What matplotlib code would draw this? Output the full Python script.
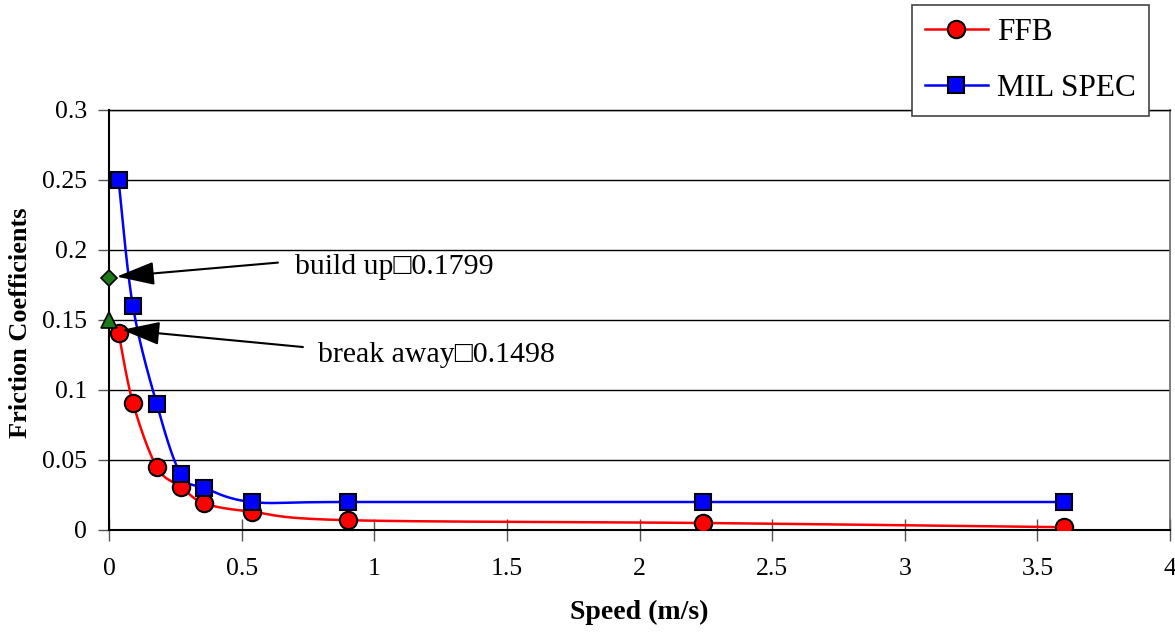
import numpy as np
import matplotlib
matplotlib.use("Agg")
import matplotlib.pyplot as plt
from matplotlib.lines import Line2D

# ---- data ----
speed = [0.036, 0.09, 0.18, 0.27, 0.36, 0.54, 0.9, 2.24, 3.6]
ffb = [0.141, 0.091, 0.045, 0.031, 0.019, 0.013, 0.007, 0.005, 0.002]
milspec = [0.25, 0.16, 0.09, 0.04, 0.03, 0.02, 0.02, 0.02, 0.02]
buildup_pt = (0.0, 0.1799)
breakaway_pt = (0.0, 0.1498)
ann_texts = ["build up\u25a10.1799", "break away\u25a10.1498"]
xticks = [0, 0.5, 1, 1.5, 2, 2.5, 3, 3.5, 4]
xticklabels = ['0', '0.5', '1', '1.5', '2', '2.5', '3', '3.5', '4']
yticks = [0, 0.05, 0.1, 0.15, 0.2, 0.25, 0.3]
yticklabels = ['0', '0.05', '0.1', '0.15', '0.2', '0.25', '0.3']

plt.rcParams['font.family'] = ['Liberation Serif', 'DejaVu Sans']

W, H = 1175, 633
fig = plt.figure(figsize=(W / 100, H / 100), dpi=100)
ax = fig.add_axes([109 / W, 1 - 530 / H, (1170 - 109) / W, 420 / H])
ax.set_xlim(0, 4)
ax.set_ylim(0, 0.3)

ASP = 420 / 1061


def smooth(x, y, n=40):
    # Excel-like bezier smoothing, computed in normalized axis space
    x = np.asarray(x, float) / 4.0
    y = np.asarray(y, float) / 0.3 * ASP
    P = np.column_stack([x, y])
    out = []
    m = len(P)
    for i in range(m - 1):
        p0 = P[i - 1] if i > 0 else P[i]
        p1 = P[i]
        p2 = P[i + 1]
        p3 = P[i + 2] if i + 2 < m else P[i + 1]
        c1 = p1 + (p2 - p0) / 6.0
        c2 = p2 - (p3 - p1) / 6.0
        t = np.linspace(0, 1, n)[:, None]
        seg = ((1 - t) ** 3) * p1 + 3 * ((1 - t) ** 2) * t * c1 + 3 * (1 - t) * t ** 2 * c2 + t ** 3 * p2
        out.append(seg)
    S = np.vstack(out)
    return S[:, 0] * 4.0, S[:, 1] / ASP * 0.3


ax.set_yticks(yticks)
ax.set_xticks(xticks)
ax.set_yticklabels(yticklabels)
ax.set_xticklabels(xticklabels)
ax.yaxis.grid(True, color='black', lw=1.0)
ax.set_axisbelow(True)
ax.tick_params(axis='y', direction='out', length=8, width=1, color='#555555', labelsize=18.5, pad=8)
ax.tick_params(axis='x', direction='inout', length=16, width=1, color='#555555', labelsize=18.5, pad=12)
for s in ['left', 'bottom']:
    ax.spines[s].set_color('black')
    ax.spines[s].set_linewidth(1.5)
ax.spines['right'].set_color('#666666')
ax.spines['right'].set_linewidth(1.2)
ax.spines['top'].set_color('black')
ax.spines['top'].set_linewidth(1.0)

sx, sy = smooth(speed, ffb)
ax.plot(sx, sy, color='red', lw=1.8, zorder=3)
sx2, sy2 = smooth(speed, milspec)
ax.plot(sx2, sy2, color='blue', lw=1.8, zorder=3)
ax.plot(speed, ffb, ls='none', marker='o', ms=12.5, mfc='red', mec='black', mew=1.5, zorder=4)
ax.plot(speed, milspec, ls='none', marker='s', ms=12, mfc='blue', mec='black', mew=1.5, zorder=4)

ax.plot([buildup_pt[0]], [buildup_pt[1]], ls='none', marker='D', ms=8.5, mfc='#1a7a1a', mec='black', mew=1.2, clip_on=False, zorder=5)
ax.plot([breakaway_pt[0]], [breakaway_pt[1]], ls='none', marker='^', ms=12, mfc='#1a7a1a', mec='black', mew=1.2, clip_on=False, zorder=5)

aprops = dict(arrowstyle='-|>,head_length=1.3,head_width=0.4', mutation_scale=18, color='black', lw=1.5, shrinkA=0, shrinkB=0)
ax.annotate('', xy=(0.029, 0.181), xytext=(0.637, 0.191), arrowprops=aprops, zorder=6)
ax.annotate('', xy=(0.049, 0.143), xytext=(0.731, 0.1307), arrowprops=aprops, zorder=6)
ax.text(0.701, 0.188, ann_texts[0], fontsize=21.5, va='center', ha='left')
ax.text(0.788, 0.125, ann_texts[1], fontsize=21.5, va='center', ha='left')

fig.text(639 / W, 1 - 612 / H, 'Speed (m/s)', fontsize=20, fontweight='bold', ha='center', va='center')
fig.text(21 / W, 1 - 323 / H, 'Friction Coefficients', fontsize=19, fontweight='bold',
         ha='center', va='center', rotation=90)

h1 = Line2D([], [], color='red', lw=1.8, marker='o', ms=12.5, mfc='red', mec='black', mew=1.5)
h2 = Line2D([], [], color='blue', lw=1.8, marker='s', ms=12, mfc='blue', mec='black', mew=1.5)
leg = fig.legend([h1, h2], ['FFB', 'MIL SPEC'], loc='upper left', bbox_to_anchor=(912 / W, 1 - 5 / H),
                 fontsize=22.5, frameon=True, fancybox=False, framealpha=1, edgecolor='#444444',
                 handlelength=2.0, handletextpad=0.3, labelspacing=0.85, borderpad=0.42, borderaxespad=0)
leg.get_frame().set_linewidth(1.2)
leg.set_zorder(10)

fig.savefig('out.png', dpi=100)
